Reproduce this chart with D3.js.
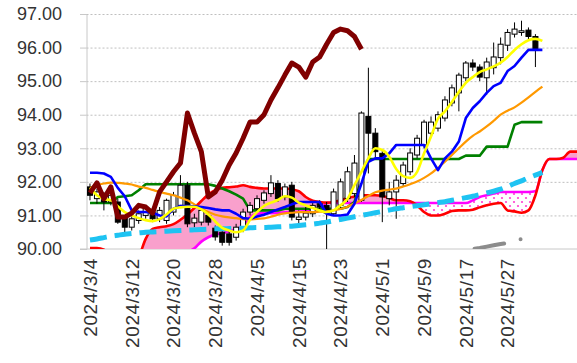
<!DOCTYPE html>
<html>
<head>
<meta charset="utf-8">
<script src="https://d3js.org/d3.v7.min.js"></script>
<style>
body { margin: 0; background: #fff; }
svg { display: block; }
</style>
</head>
<body>
<script>
// ---- data ----
var yTicks = [90, 91, 92, 93, 94, 95, 96, 97];

var open  = [91.85,91.5,91.65,91.4,91.4,90.95,90.65,90.85,91.0,91.1,
             90.9,90.85,91.1,91.3,91.9,90.78,90.8,91.0,90.62,90.5,
             90.45,90.35,90.6,91.1,91.2,91.45,91.65,91.95,91.55,91.9,
             90.88,90.95,91.05,91.35,91.3,91.05,91.3,91.5,91.65,91.45,
             93.95,93.45,92.85,91.5,91.7,91.95,92.3,92.8,93.1,93.45,
             93.6,93.9,94.35,94.65,95.1,95.54,95.42,95.1,95.4,95.7,
             96.07,96.4,96.45,96.52,96.33];
var high  = [91.95,91.8,91.7,91.7,91.5,91.0,91.0,91.15,91.3,91.2,
             91.25,91.5,91.7,92.2,92.0,91.05,91.25,91.1,90.7,90.6,
             90.55,90.75,91.2,91.4,91.6,91.75,92.2,92.05,91.95,92.0,
             91.15,91.25,91.4,91.45,91.4,91.8,92.1,92.45,92.8,94.1,
             95.4,93.6,92.95,92.0,92.2,92.6,93.0,93.4,93.85,93.95,
             94.1,94.55,94.9,95.25,95.6,95.65,95.5,95.7,96.15,96.3,
             96.55,96.75,96.8,96.6,96.4];
var low   = [91.45,91.35,91.15,91.3,90.75,90.5,90.55,90.75,90.9,90.8,
             90.8,90.75,91.0,91.25,90.65,90.65,90.7,90.7,90.25,90.1,
             90.1,90.25,90.5,91.0,91.1,91.35,91.55,91.4,91.45,90.85,
             90.7,90.85,90.95,91.1,90.0,91.0,91.2,91.4,91.55,91.4,
             92.25,92.7,90.8,91.3,90.9,91.85,92.2,92.7,93.0,93.35,
             93.5,93.8,94.25,94.1,95.0,95.3,95.0,94.6,95.2,95.5,
             95.9,96.3,96.35,96.25,95.42];
var close = [91.6,91.7,91.4,91.6,90.8,90.65,90.9,91.05,91.2,90.9,
             91.15,91.45,91.6,91.9,90.75,90.92,91.15,90.8,90.36,90.2,
             90.2,90.65,91.1,91.3,91.5,91.67,91.97,91.5,91.85,90.95,
             90.95,91.07,91.3,91.25,91.07,91.7,92.0,92.3,92.56,94.05,
             93.45,92.9,91.55,91.7,92.05,92.5,92.86,93.3,93.78,93.78,
             94.0,94.44,94.8,95.18,95.54,95.42,95.12,95.57,95.72,96.1,
             96.45,96.55,96.5,96.33,95.95];

var tenkan = [92.27,92.27,92.25,92.15,91.82,91.57,91.15,91.1,91.1,91.08,
              91.0,90.97,91.2,91.28,91.28,91.27,91.25,91.22,91.18,91.15,
              91.15,91.05,90.92,90.9,90.97,91.02,91.1,91.18,91.25,91.33,
              91.4,91.4,91.4,91.4,91.05,91.0,91.0,91.03,91.35,91.95,
              92.6,92.7,92.7,92.85,93.1,93.1,93.1,93.1,93.1,92.7,
              92.35,92.7,92.9,93.2,93.9,94.2,94.4,94.65,94.85,94.95,
              95.3,95.45,95.7,95.93,95.93,95.93];
var kijun  = [91.37,91.37,91.37,91.37,91.55,91.57,91.6,91.75,91.93,91.93,
              91.93,91.93,91.93,91.93,91.93,91.93,91.93,91.93,91.88,91.8,
              91.72,91.62,91.5,91.15,91.15,91.15,91.15,91.15,91.2,91.2,
              91.2,91.2,91.2,91.2,91.2,91.2,91.2,91.25,91.4,92.05,
              92.68,92.68,92.68,92.68,92.68,92.68,92.68,92.68,92.68,92.68,
              92.68,92.68,92.68,92.68,92.78,92.78,92.78,93.05,93.05,93.05,
              93.05,93.7,93.78,93.78,93.78,93.78];
var ma5    = [91.82,91.6,91.49,91.45,91.27,91.1,91.0,90.92,90.86,90.83,
              90.89,91.03,91.2,91.24,91.26,91.26,91.18,91.03,90.82,90.63,
              90.55,90.5,90.55,90.87,91.1,91.28,91.38,91.46,91.57,91.53,
              91.38,91.3,91.22,91.15,91.1,91.15,91.3,91.5,91.9,92.3,
              92.7,93.0,92.95,92.75,92.38,92.17,92.12,92.3,92.85,93.35,
              93.88,94.1,94.38,94.68,94.95,95.12,95.27,95.35,95.44,95.55,
              95.72,95.93,96.1,96.22,96.26,96.2];
var ma25   = [91.82,91.9,91.95,91.98,91.97,91.95,91.92,91.86,91.82,91.76,
              91.7,91.65,91.6,91.53,91.45,91.33,91.2,91.1,91.02,90.97,
              90.94,90.92,90.89,90.88,90.9,90.91,90.96,91.02,91.06,91.08,
              91.1,91.1,91.1,91.11,91.12,91.15,91.19,91.26,91.36,91.46,
              91.58,91.69,91.74,91.77,91.8,91.86,91.93,92.01,92.12,92.25,
              92.42,92.6,92.8,93.0,93.2,93.37,93.5,93.65,93.82,94.0,
              94.12,94.22,94.36,94.52,94.68,94.84];
var ma75   = [90.27,90.3,90.34,90.38,90.41,90.44,90.46,90.48,90.5,90.51,
              90.52,90.53,90.54,90.55,90.56,90.57,90.58,90.59,90.6,90.6,
              90.61,90.62,90.62,90.63,90.64,90.64,90.65,90.66,90.67,90.68,
              90.7,90.72,90.74,90.77,90.8,90.84,90.88,90.92,90.96,91.0,
              91.04,91.08,91.12,91.16,91.2,91.23,91.26,91.29,91.32,91.35,
              91.38,91.41,91.45,91.49,91.53,91.57,91.62,91.67,91.72,91.78,
              91.86,91.95,92.03,92.12,92.2,92.28];
var spanA  = [90.03,90.03,89.98,89.8,89.55,89.4,89.45,89.75,90.3,90.6,
              90.65,90.68,90.74,90.87,91.03,91.22,91.43,91.62,91.75,91.82,
              91.84,91.86,91.9,91.85,91.82,91.8,91.8,91.8,91.8,91.78,
              91.72,91.55,91.44,91.4,91.38,91.4,91.45,91.52,91.56,91.6,
              91.6,91.6,91.58,91.52,91.45,91.45,91.42,91.3,91.1,91.0,
              91.0,91.05,91.13,91.15,91.15,91.17,91.24,91.3,91.35,91.37,
              91.15,91.12,91.08,91.15,91.6,92.35,92.68,92.68,92.72,92.9,
              92.9,92.9];
var spanB  = [88.9,88.9,88.9,88.9,88.9,88.95,89.0,89.05,89.1,89.2,
              89.3,89.45,89.6,89.75,89.9,90.02,90.22,90.35,90.43,90.47,
              90.52,90.59,90.66,90.95,91.05,91.07,91.07,91.08,91.09,91.1,
              91.11,91.12,91.14,91.15,91.37,91.37,91.37,91.37,91.37,91.37,
              91.37,91.37,91.37,91.37,91.37,91.37,91.37,91.37,91.37,91.37,
              91.37,91.37,91.37,91.37,91.37,91.45,91.55,91.6,91.65,91.7,
              91.7,91.7,91.7,91.7,91.72,92.35,92.68,92.68,92.68,92.68,
              92.68,92.68];
// lower channel line, only its tail is above 90
var lowerStart = 50;
var lower  = [89.85,89.87,89.9,89.93,89.96,90.0,90.03,90.07,90.11,90.15,
              90.18,90.24,90.3,90.36,90.42];

var LAG = 25;       // chikou span shift
var N_CAT = 90;     // trading days + future slots of the cloud

// ---- categories ----
var fmt = d3.timeFormat("%Y/%-m/%-d");
var dates = d3.timeDay.range(new Date(2024, 2, 4), new Date(2024, 5, 1))
  .filter(function(d) { return d.getDay() !== 0 && d.getDay() !== 6; });
var categories = dates.map(fmt);
var tickIdx = d3.range(0, categories.length, 6);

// ---- svg ----
var W = 577, H = 363;
var plotLeft = 86.5, plotBottom = 249, plotTop = 14, step = 6.96;

var svg = d3.select("body").append("svg")
  .attr("width", W)
  .attr("height", H);

var x = d3.scaleBand().domain(d3.range(N_CAT)).range([plotLeft, plotLeft + N_CAT * step]);
var y = d3.scaleLinear().domain([90, 97]).range([plotBottom, plotTop]);
function cx(i) { return x(i) + x.bandwidth() / 2; }

var defs = svg.append("defs");
defs.append("clipPath").attr("id", "plot")
  .append("rect").attr("x", plotLeft).attr("y", 0).attr("width", W - plotLeft).attr("height", plotBottom);

var pat = defs.append("pattern").attr("id", "dots")
  .attr("width", 8).attr("height", 8).attr("patternUnits", "userSpaceOnUse");
pat.append("rect").attr("width", 8).attr("height", 8).attr("fill", "#fff");
pat.append("circle").attr("cx", 2).attr("cy", 2).attr("r", 1.1).attr("fill", "#ff40d0");
pat.append("circle").attr("cx", 6).attr("cy", 6).attr("r", 1.1).attr("fill", "#ff40d0");

// gridlines
svg.append("g")
  .attr("transform", "translate(" + plotLeft + ",0)")
  .call(d3.axisLeft(y).tickValues(yTicks.slice(1)).tickSize(-(W - plotLeft)).tickFormat(""))
  .call(function(g) {
    g.select(".domain").remove();
    g.selectAll("line").attr("stroke", "#bfbfbf").attr("stroke-dasharray", "2,2");
  });

// y axis
svg.append("g")
  .attr("transform", "translate(" + plotLeft + ",0)")
  .call(d3.axisLeft(y).tickValues(yTicks).tickFormat(d3.format(".2f")).tickSize(6.5).tickPadding(18))
  .call(function(g) {
    g.select(".domain").attr("stroke", "#c8c8c8");
    g.selectAll("line").attr("stroke", "#c8c8c8");
    g.selectAll("text")
      .attr("fill", "#333")
      .style("font-family", "Liberation Sans, Arial, sans-serif")
      .style("font-size", "18px");
  });

// bottom axis line
svg.append("line")
  .attr("x1", plotLeft - 6.5).attr("x2", W)
  .attr("y1", y(90)).attr("y2", y(90))
  .attr("stroke", "#c8c8c8");

// x axis labels
svg.append("g")
  .attr("transform", "translate(0," + plotBottom + ")")
  .call(d3.axisBottom(x).tickValues(tickIdx).tickFormat(function(i) { return categories[i]; }).tickSize(0))
  .call(function(g) {
    g.select(".domain").remove();
    g.selectAll("text")
      .attr("transform", "rotate(-90)")
      .attr("text-anchor", "end")
      .attr("x", -9)
      .attr("y", 0)
      .attr("dy", "0.36em")
      .attr("fill", "#333")
      .style("font-family", "Liberation Sans, Arial, sans-serif")
      .style("font-size", "19px")
      .style("letter-spacing", "0.6px");
  });

var plot = svg.append("g").attr("clip-path", "url(#plot)");

// ---- cloud ----
var cloud = d3.range(spanA.length).map(function(i) { return { i: i, a: spanA[i], b: spanB[i] }; });
var curve = d3.curveMonotoneX;

defs.append("clipPath").attr("id", "aboveB").append("path")
  .attr("d", d3.area().x(function(d) { return cx(d.i); }).y0(0).y1(function(d) { return y(d.b); }).curve(curve)(cloud));
defs.append("clipPath").attr("id", "belowB").append("path")
  .attr("d", d3.area().x(function(d) { return cx(d.i); }).y0(function(d) { return y(d.b); }).y1(H).curve(curve)(cloud));

var between = d3.area()
  .x(function(d) { return cx(d.i); })
  .y0(function(d) { return y(d.b); })
  .y1(function(d) { return y(d.a); })
  .curve(curve);

plot.append("path").attr("d", between(cloud)).attr("fill", "#f9a0cc").attr("clip-path", "url(#aboveB)");
plot.append("path").attr("d", between(cloud)).attr("fill", "url(#dots)").attr("clip-path", "url(#belowB)");

function drawLine(values, offset, color, width, smooth, dash) {
  var line = d3.line()
    .defined(function(d) { return d != null; })
    .x(function(d, i) { return cx(i + offset); })
    .y(function(d) { return y(d); })
    .curve(smooth ? d3.curveMonotoneX : d3.curveLinear);
  var p = plot.append("path")
    .datum(values)
    .attr("d", line)
    .attr("fill", "none")
    .attr("stroke", color)
    .attr("stroke-width", width)
    .attr("stroke-linejoin", "round");
  if (dash) p.attr("stroke-dasharray", dash);
  return p;
}

drawLine(spanB, 0, "#ff00ff", 2.6, true);
drawLine(spanA, 0, "#ff0000", 2.6, true);
drawLine(kijun, 0, "#008000", 2.6, false);

// ---- candles ----
var candles = d3.range(close.length).map(function(i) {
  return { i: i, o: open[i], h: high[i], l: low[i], c: close[i] };
});
var cg = plot.append("g");
cg.selectAll("line").data(candles).join("line")
  .attr("x1", function(d) { return cx(d.i); })
  .attr("x2", function(d) { return cx(d.i); })
  .attr("y1", function(d) { return y(d.h); })
  .attr("y2", function(d) { return y(d.l); })
  .attr("stroke", "#000")
  .attr("stroke-width", 1);
cg.selectAll("rect").data(candles).join("rect")
  .attr("x", function(d) { return cx(d.i) - 2.5; })
  .attr("width", 5)
  .attr("y", function(d) { return y(Math.max(d.o, d.c)); })
  .attr("height", function(d) { return Math.max(0.6, Math.abs(y(d.o) - y(d.c))); })
  .attr("fill", function(d) { return d.c >= d.o ? "#fff" : "#000"; })
  .attr("stroke", "#000")
  .attr("stroke-width", 1);

drawLine(ma25, 0, "#ff9900", 2.2, true);
drawLine(ma75, 0, "#1ec3f2", 5, true, "17,8");

drawLine(lower, lowerStart, "#8c8c8c", 4, false, "30,17,0,16,0,17")
  .attr("stroke-linecap", "round")
  .attr("stroke-dashoffset", 80 - (475 - cx(lowerStart)));

drawLine(tenkan, 0, "#0000ff", 2.6, false);
drawLine(ma5, 0, "#ffff00", 2.6, true);

// chikou span: closes shifted back
drawLine(close.slice(LAG), 0, "#800000", 5, false);
</script>
</body>
</html>
